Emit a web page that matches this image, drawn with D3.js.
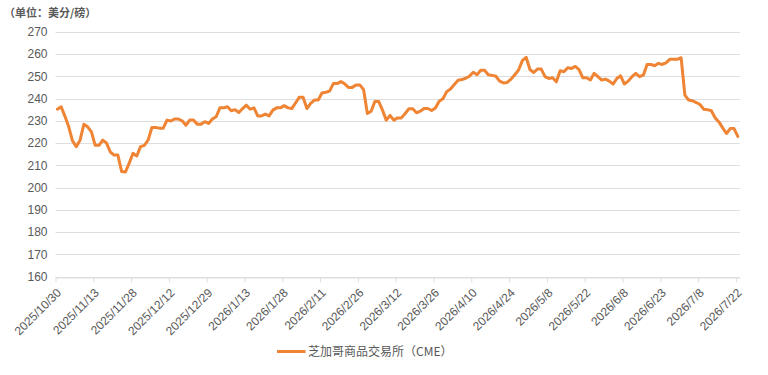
<!DOCTYPE html>
<html lang="zh">
<head>
  <meta charset="UTF-8">
  <title>芝加哥商品交易所（CME）</title>
  <style>
    body {
      margin: 0;
      padding: 0;
      background: #fff;
      font-family: "Liberation Sans", Arial, "Noto Sans CJK SC", sans-serif;
    }
    svg text {
      fill: #595959;
    }
  </style>
</head>
<body>
  <svg id="chart" width="768" height="375"></svg>
  <script src="https://cdn.jsdelivr.net/npm/d3@7/dist/d3.min.js"></script>
  <script>
    const tickLabels = [
      '2025/10/30', '2025/11/13', '2025/11/28', '2025/12/12', '2025/12/29',
      '2026/1/13', '2026/1/28', '2026/2/11', '2026/2/26', '2026/3/12',
      '2026/3/26', '2026/4/10', '2026/4/24', '2026/5/8', '2026/5/22',
      '2026/6/8', '2026/6/23', '2026/7/8', '2026/7/22'
    ];

    const yTicks = [160, 170, 180, 190, 200, 210, 220, 230, 240, 250, 260, 270];

    const seriesName = '芝加哥商品交易所（CME）';

    const values = [
      235.2, 236.3, 232, 227.3, 221, 218.4, 221.3, 228.4, 227.3, 225,
      219, 219, 221.3, 220, 216, 214.6, 214.6, 207.2, 207, 211,
      215.4, 214.2, 218.4, 219, 221.3, 227, 227, 226.7, 226.7, 230.3,
      229.9, 230.8, 230.8, 230, 228, 230.3, 230.3, 228.5, 228.5, 229.6,
      228.8, 230.8, 231.8, 235.8, 235.8, 236.3, 234.5, 235, 233.7, 235.5,
      237, 235.2, 235.8, 232.2, 232.2, 233, 232.2, 234.8, 235.8, 235.8,
      236.8, 235.8, 235.5, 238, 240.6, 240.6, 235.5, 237.8, 239.3, 239.3,
      242.5, 242.8, 243.3, 246.7, 246.7, 247.6, 246.6, 245, 245, 246.1,
      246.1, 244, 233.3, 234.3, 238.7, 238.7, 234.8, 230.3, 232.4, 230.3,
      231.3, 231.3, 233.3, 235.4, 235.4, 233.6, 234.3, 235.5, 235.5, 234.6,
      235.7, 238.8, 239.9, 243.1, 244.3, 246.3, 248.2, 248.5, 249.1, 250,
      251.8, 250.7, 252.7, 252.7, 250.7, 250.4, 250, 247.8, 247, 247.2,
      248.7, 250.7, 252.8, 257, 258.5, 253, 251.7, 253.2, 253.2, 249.8,
      249, 249.3, 247.5, 252.5, 252, 253.8, 253.5, 254.4, 253, 249.3,
      249.3, 248.3, 251.3, 249.8, 248.3, 248.7, 247.8, 246.5, 249, 250.2,
      246.5, 247.8, 249.8, 251.3, 249.8, 250.5, 255.3, 255.3, 254.7, 255.8,
      255.3, 256, 257.6, 257.6, 257.6, 258.3, 241.5, 239.3, 239, 238.2,
      237.3, 235.2, 235, 234.5, 231.3, 229.5, 226.8, 224.3, 226.5, 226.5,
      223
    ];

    const plotLeft = 55.5, plotRight = 739.7, plotTop = 31.7, plotBottom = 276.7;
    const lineColor = '#EE8434';
    const gridColor = '#dedede';

    const svg = d3.select('#chart');

    // x is a category axis: ticks on band edges, points in band centres
    const xScale = d3.scaleLinear()
      .domain([0, values.length])
      .range([plotLeft, plotRight]);

    const yScale = d3.scaleLinear()
      .domain([160, 270])
      .range([plotBottom, plotTop]);

    // Grid lines
    svg.append('g')
      .selectAll('line')
      .data(yTicks)
      .enter()
      .append('line')
      .attr('x1', plotLeft)
      .attr('x2', plotRight)
      .attr('y1', d => Math.round(yScale(d)) + 0.5)
      .attr('y2', d => Math.round(yScale(d)) + 0.5)
      .attr('stroke', gridColor)
      .attr('stroke-width', 1);

    // Y axis labels
    const yAxis = d3.axisLeft(yScale)
      .tickValues(yTicks)
      .tickSize(0)
      .tickPadding(8);

    const yg = svg.append('g')
      .attr('transform', `translate(${plotLeft}, 0)`)
      .call(yAxis);
    yg.select('.domain').remove();
    yg.selectAll('text')
      .style('font-size', '12px')
      .style('font-family', '"Liberation Sans", Arial, sans-serif')
      .attr('fill', '#595959');

    // X axis
    const tickIdx = tickLabels.map((d, i) => i * 10);
    const xAxis = d3.axisBottom(xScale)
      .tickValues(tickIdx)
      .tickSize(5)
      .tickSizeOuter(0)
      .tickFormat((d, i) => tickLabels[i]);

    const xg = svg.append('g')
      .attr('transform', `translate(0, ${Math.round(plotBottom) + 0.5})`)
      .call(xAxis);
    xg.select('.domain').attr('stroke', gridColor);
    xg.selectAll('.tick line').attr('stroke', gridColor);
    xg.selectAll('.tick text')
      .attr('y', 0)
      .attr('dy', 0)
      .attr('transform', 'translate(6, 16) rotate(-45)')
      .attr('text-anchor', 'end')
      .style('font-size', '12px')
      .style('font-family', '"Liberation Sans", Arial, sans-serif')
      .attr('fill', '#595959');

    // Line
    const line = d3.line()
      .x((d, i) => xScale(i + 0.5))
      .y(d => yScale(d));

    svg.append('path')
      .datum(values)
      .attr('d', line)
      .attr('fill', 'none')
      .attr('stroke', lineColor)
      .attr('stroke-width', 3)
      .attr('stroke-linejoin', 'round')
      .attr('stroke-linecap', 'round');

    // Unit label
    svg.append('text')
      .attr('x', 4)
      .attr('y', 17)
      .style('font-size', '11px')
      .style('font-weight', 'bold')
      .style('font-family', '"Noto Sans CJK SC", sans-serif')
      .text('（单位：美分/磅）');

    // Legend
    const legend = svg.append('g');
    legend.append('line')
      .attr('x1', 277)
      .attr('x2', 305.5)
      .attr('y1', 351.5)
      .attr('y2', 351.5)
      .attr('stroke', lineColor)
      .attr('stroke-width', 3);
    legend.append('text')
      .attr('x', 308)
      .attr('y', 356)
      .style('font-size', '12px')
      .style('font-family', '"Noto Sans CJK SC", sans-serif')
      .text(seriesName);
  </script>
</body>
</html>
